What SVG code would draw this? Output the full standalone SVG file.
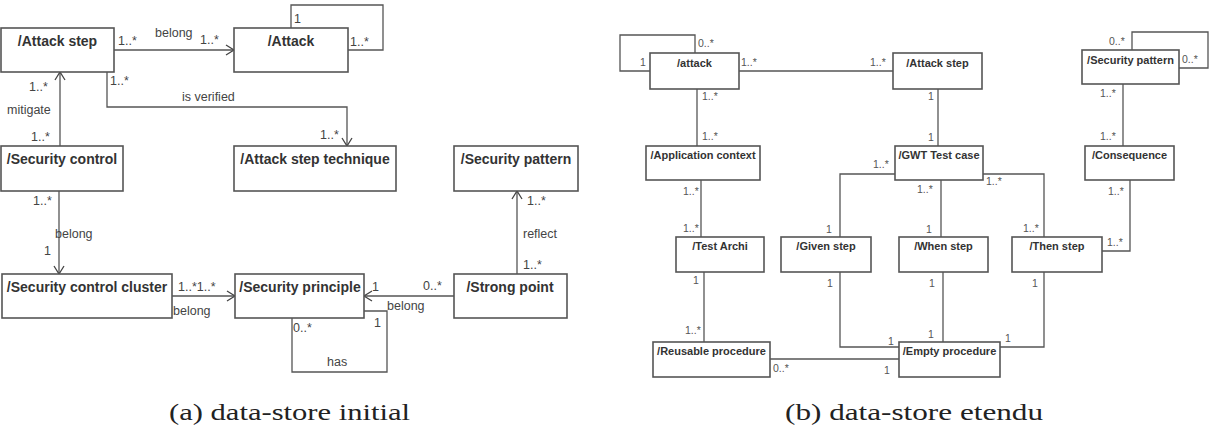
<svg xmlns="http://www.w3.org/2000/svg" width="1213" height="427" viewBox="0 0 1213 427">
<style>
.box{fill:#fff;stroke:#555;stroke-width:1.6}
.ln{fill:none;stroke:#555;stroke-width:1.3}
.t{font-family:"Liberation Sans",Arial,sans-serif;font-weight:bold;font-size:14px;fill:#333;text-anchor:middle}
.l{font-family:"Liberation Sans",Arial,sans-serif;font-size:12.5px;fill:#444}
.t2{font-family:"Liberation Sans",Arial,sans-serif;font-weight:bold;font-size:11px;fill:#333;text-anchor:middle}
.l2{font-family:"Liberation Sans",Arial,sans-serif;font-size:10.5px;fill:#555}
.cap{font-family:"Liberation Serif","Times New Roman",serif;font-size:24px;fill:#222}
</style>
<defs>
<marker id="arr" viewBox="-10 -6 12 12" refX="0" refY="0" markerWidth="12" markerHeight="12" markerUnits="userSpaceOnUse" orient="auto">
<path d="M-8,-5 L0,0 L-8,5" fill="none" stroke="#444" stroke-width="1.3"/>
</marker>
</defs>
<rect width="1213" height="427" fill="#fff"/>

<!-- Left diagram connectors -->
<g id="connectors-a">
<path class="ln" d="M114,50 H234" marker-end="url(#arr)"/>
<path class="ln" d="M291,28 V5 H383 V50 H348"/>
<path class="ln" d="M60,146 V72" marker-end="url(#arr)"/>
<path class="ln" d="M107,72 V107 H347 V146" marker-end="url(#arr)"/>
<path class="ln" d="M59,191 V274" marker-end="url(#arr)"/>
<path class="ln" d="M172,296 H235" marker-end="url(#arr)"/>
<path class="ln" d="M454,296 H364" marker-end="url(#arr)"/>
<path class="ln" d="M292,318 V372 H387 V311 H364"/>
<path class="ln" d="M517,274 V191" marker-end="url(#arr)"/>
<text class="l" x="118" y="45">1..*</text>
<text class="l" x="155" y="37">belong</text>
<text class="l" x="200" y="44">1..*</text>
<text class="l" x="294" y="23">1</text>
<text class="l" x="350" y="46">1..*</text>
<text class="l" x="29" y="91">1..*</text>
<text class="l" x="7" y="114">mitigate</text>
<text class="l" x="31" y="141">1..*</text>
<text class="l" x="110" y="85">1..*</text>
<text class="l" x="182" y="101">is verified</text>
<text class="l" x="320" y="139">1..*</text>
<text class="l" x="33" y="205">1..*</text>
<text class="l" x="55" y="238">belong</text>
<text class="l" x="44" y="255">1</text>
<text class="l" x="178" y="291">1..*1..*</text>
<text class="l" x="173" y="315">belong</text>
<text class="l" x="372" y="291">1</text>
<text class="l" x="423" y="290">0..*</text>
<text class="l" x="387" y="310">belong</text>
<text class="l" x="293" y="332">0..*</text>
<text class="l" x="374" y="327">1</text>
<text class="l" x="327" y="366">has</text>
<text class="l" x="527" y="205">1..*</text>
<text class="l" x="523" y="238">reflect</text>
<text class="l" x="523" y="269">1..*</text>
</g>

<!-- Left diagram nodes -->
<g id="a-attack-step"><rect class="box" x="1" y="28" width="113" height="44"/><text class="t" x="57.5" y="46">/Attack step</text></g>
<g id="a-attack"><rect class="box" x="234" y="28" width="114" height="44"/><text class="t" x="291" y="46">/Attack</text></g>
<g id="a-security-control"><rect class="box" x="1" y="146" width="122" height="45"/><text class="t" x="62" y="164">/Security control</text></g>
<g id="a-attack-step-technique"><rect class="box" x="234" y="146" width="162" height="45"/><text class="t" x="315" y="164">/Attack step technique</text></g>
<g id="a-security-pattern"><rect class="box" x="454" y="146" width="124" height="45"/><text class="t" x="516" y="164">/Security pattern</text></g>
<g id="a-security-control-cluster"><rect class="box" x="2" y="274" width="170" height="44"/><text class="t" x="87" y="292">/Security control cluster</text></g>
<g id="a-security-principle"><rect class="box" x="235" y="274" width="129" height="44"/><text class="t" x="300" y="292">/Security principle</text></g>
<g id="a-strong-point"><rect class="box" x="454" y="274" width="113" height="44"/><text class="t" x="510" y="292">/Strong point</text></g>

<!-- Right diagram connectors -->
<g id="connectors-b">
<path class="ln" d="M650,71 H620 V35 H695 V53"/>
<path class="ln" d="M739,71 H893"/>
<path class="ln" d="M697,89 V146"/>
<path class="ln" d="M701,180 V237"/>
<path class="ln" d="M704,272 V342"/>
<path class="ln" d="M938,89 V146"/>
<path class="ln" d="M895,174 H840 V237"/>
<path class="ln" d="M941,180 V237"/>
<path class="ln" d="M983,174 H1044 V237"/>
<path class="ln" d="M840,272 V347 H899"/>
<path class="ln" d="M943,272 V342"/>
<path class="ln" d="M1044,272 V347 H1000"/>
<path class="ln" d="M770,359 H899"/>
<path class="ln" d="M1132,50 V32 H1208 V68 H1179"/>
<path class="ln" d="M1123,84 V146"/>
<path class="ln" d="M1130,180 V251 H1102"/>
<text class="l2" x="640" y="66">1</text>
<text class="l2" x="698" y="47">0..*</text>
<text class="l2" x="741" y="66">1..*</text>
<text class="l2" x="870" y="66">1..*</text>
<text class="l2" x="702" y="100">1..*</text>
<text class="l2" x="702" y="140">1..*</text>
<text class="l2" x="928" y="100">1</text>
<text class="l2" x="928" y="141">1</text>
<text class="l2" x="1109" y="45">0..*</text>
<text class="l2" x="1182" y="63">0..*</text>
<text class="l2" x="1100" y="97">1..*</text>
<text class="l2" x="1100" y="140">1..*</text>
<text class="l2" x="873" y="168">1..*</text>
<text class="l2" x="986" y="185">1..*</text>
<text class="l2" x="917" y="193">1..*</text>
<text class="l2" x="683" y="195">1..*</text>
<text class="l2" x="683" y="232">1..*</text>
<text class="l2" x="693" y="284">1</text>
<text class="l2" x="685" y="334">1..*</text>
<text class="l2" x="826" y="233">1</text>
<text class="l2" x="827" y="287">1</text>
<text class="l2" x="888" y="345">1</text>
<text class="l2" x="773" y="372">0..*</text>
<text class="l2" x="884" y="374">1</text>
<text class="l2" x="926" y="233">1</text>
<text class="l2" x="929" y="287">1</text>
<text class="l2" x="928" y="338">1</text>
<text class="l2" x="1023" y="232">1..*</text>
<text class="l2" x="1032" y="287">1</text>
<text class="l2" x="1005" y="342">1</text>
<text class="l2" x="1108" y="195">1..*</text>
<text class="l2" x="1107" y="246">1..*</text>
</g>

<!-- Right diagram nodes -->
<g id="b-attack"><rect class="box" x="650" y="53" width="89" height="36"/><text class="t2" x="694.5" y="67">/attack</text></g>
<g id="b-attack-step"><rect class="box" x="893" y="53" width="89" height="36"/><text class="t2" x="937.5" y="67">/Attack step</text></g>
<g id="b-security-pattern"><rect class="box" x="1082" y="50" width="97" height="34"/><text class="t2" x="1130.5" y="64">/Security pattern</text></g>
<g id="b-application-context"><rect class="box" x="646" y="146" width="114" height="34"/><text class="t2" x="703" y="159">/Application context</text></g>
<g id="b-gwt-test-case"><rect class="box" x="895" y="146" width="88" height="34"/><text class="t2" x="939" y="159">/GWT Test case</text></g>
<g id="b-consequence"><rect class="box" x="1085" y="146" width="89" height="34"/><text class="t2" x="1129.5" y="159">/Consequence</text></g>
<g id="b-test-archi"><rect class="box" x="676" y="237" width="88" height="35"/><text class="t2" x="720" y="250">/Test Archi</text></g>
<g id="b-given-step"><rect class="box" x="781" y="237" width="90" height="35"/><text class="t2" x="826" y="250">/Given step</text></g>
<g id="b-when-step"><rect class="box" x="899" y="237" width="89" height="35"/><text class="t2" x="943.5" y="250">/When step</text></g>
<g id="b-then-step"><rect class="box" x="1012" y="237" width="90" height="35"/><text class="t2" x="1057" y="250">/Then step</text></g>
<g id="b-reusable-procedure"><rect class="box" x="653" y="342" width="117" height="35"/><text class="t2" x="711.5" y="355">/Reusable procedure</text></g>
<g id="b-empty-procedure"><rect class="box" x="899" y="342" width="101" height="35"/><text class="t2" x="949.5" y="355">/Empty procedure</text></g>

<!-- Captions -->
<text class="cap" x="169" y="420" textLength="241" lengthAdjust="spacingAndGlyphs">(a) data-store initial</text>
<text class="cap" x="785" y="420" textLength="258" lengthAdjust="spacingAndGlyphs">(b) data-store etendu</text>
</svg>
